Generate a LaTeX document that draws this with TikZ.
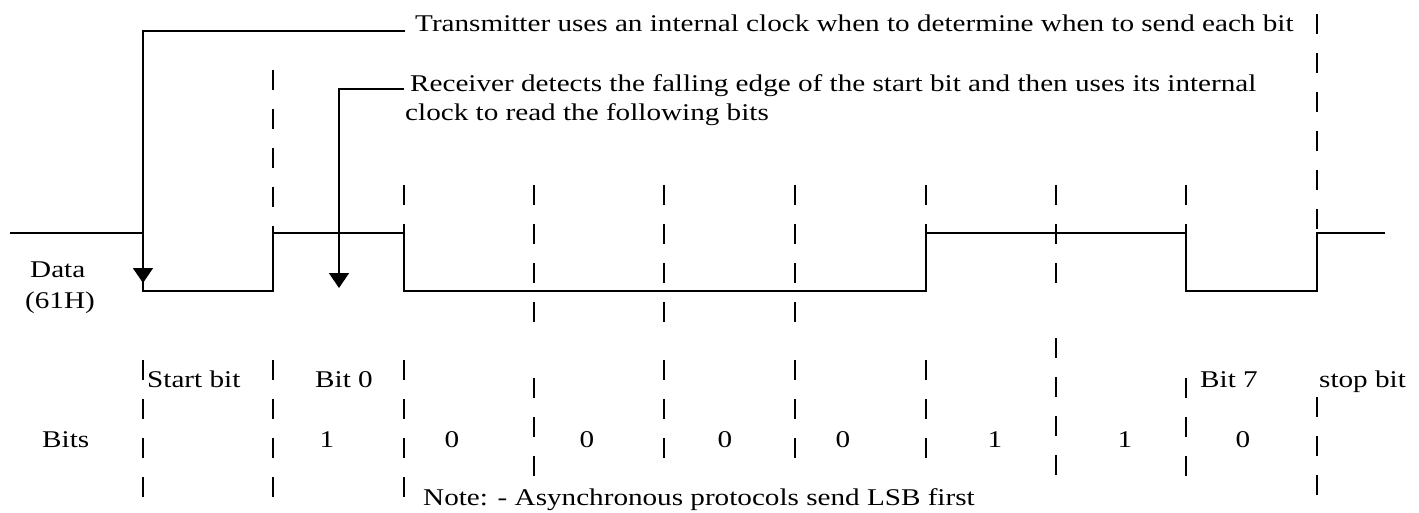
\documentclass[tikz,border=0pt]{standalone}
\usepackage{fontspec}
\setmainfont{Liberation Serif}
\usetikzlibrary{arrows.meta}
\newcommand{\wtx}[1]{\scalebox{1.215}[1]{#1}}
\begin{document}
\begin{tikzpicture}[x=1pt,y=-1pt,
  sig/.style={line width=1.6pt, line join=miter},
  tick/.style={line width=1.5pt, dash pattern=on 20pt off 19pt},
  lbl/.style={inner sep=0pt, anchor=base west, font=\fontsize{24}{29}\selectfont},
  val/.style={inner sep=0pt, anchor=base, font=\fontsize{24}{29}\selectfont},
  lead/.style={line width=1.6pt, -{Triangle[width=20pt,length=15pt]}}]
\fill[white] (0,0) rectangle (1419,513);
\useasboundingbox (0,0) rectangle (1419,513);
% signal
\draw[sig] (10,233) -- (143,233) -- (143,291) -- (273,291) -- (273,233) -- (404,233) -- (404,291)
  -- (926,291) -- (926,233) -- (1186,233) -- (1186,291) -- (1317,291) -- (1317,233) -- (1385,233);
% upper dashed boundaries
\draw[tick] (273,70) -- (273,233);
\draw[tick] (404,185) -- (404,233);
\foreach \x in {534,664,795} \draw[tick] (\x,185) -- (\x,322);
\draw[tick] (926,185) -- (926,233);
\draw[tick] (1056,185) -- (1056,284);
\draw[tick] (1186,185) -- (1186,233);
\draw[tick] (1317,14) -- (1317,233);
% lower dashed boundaries
\foreach \x in {143,273,404} \draw[tick] (\x,360) -- (\x,497);
\foreach \x in {664,795,926} \draw[tick] (\x,360) -- (\x,458);
\foreach \x in {534,1186} \draw[tick] (\x,378) -- (\x,477);
\draw[tick] (1056,338) -- (1056,477);
\draw[tick] (1317,397) -- (1317,497);
% annotations
\node[lbl, inner xsep=10pt] (tx) at (405,32) {\wtx{Transmitter uses an internal clock when to determine when to send each bit}};
\node[lbl, inner xsep=6pt] (rx1) at (404,92) {\wtx{Receiver detects the falling edge of the start bit and then uses its internal}};
\node[lbl] (rx2) at (405,121) {\wtx{clock to read the following bits}};
\coordinate (txknee) at (143,31);
\coordinate (txtip) at (143,283);
\coordinate (rxknee) at (339,89);
\coordinate (rxtip) at (339,288);
\draw[lead] ([yshift=1pt]tx.base west) -- (txknee) -- (txtip);
\draw[lead] ([yshift=3pt]rx1.base west) -- (rxknee) -- (rxtip);
% labels
\node[lbl] (data) at (30,277) {\wtx{Data}};
\node[lbl] (hex) at (25,308) {\wtx{(61H)}};
\node[lbl] (bitsl) at (42,447) {\wtx{Bits}};
\node[lbl] (start) at (147,387) {\wtx{Start bit}};
\node[lbl] (b0) at (315,387) {\wtx{Bit 0}};
\node[lbl] (b7) at (1200,387) {\wtx{Bit 7}};
\node[lbl] (stop) at (1319,387) {\wtx{stop bit}};
\node[val] (v0) at (327,447) {\wtx{1}};
\node[val] (v1) at (452,447) {\wtx{0}};
\node[val] (v2) at (587,447) {\wtx{0}};
\node[val] (v3) at (725,447) {\wtx{0}};
\node[val] (v4) at (843,447) {\wtx{0}};
\node[val] (v5) at (995,447) {\wtx{1}};
\node[val] (v6) at (1125,447) {\wtx{1}};
\node[val] (v7) at (1243,447) {\wtx{0}};
\node[lbl] (note) at (423,505) {\wtx{Note: - Asynchronous protocols send LSB first}};
\end{tikzpicture}
\end{document}
